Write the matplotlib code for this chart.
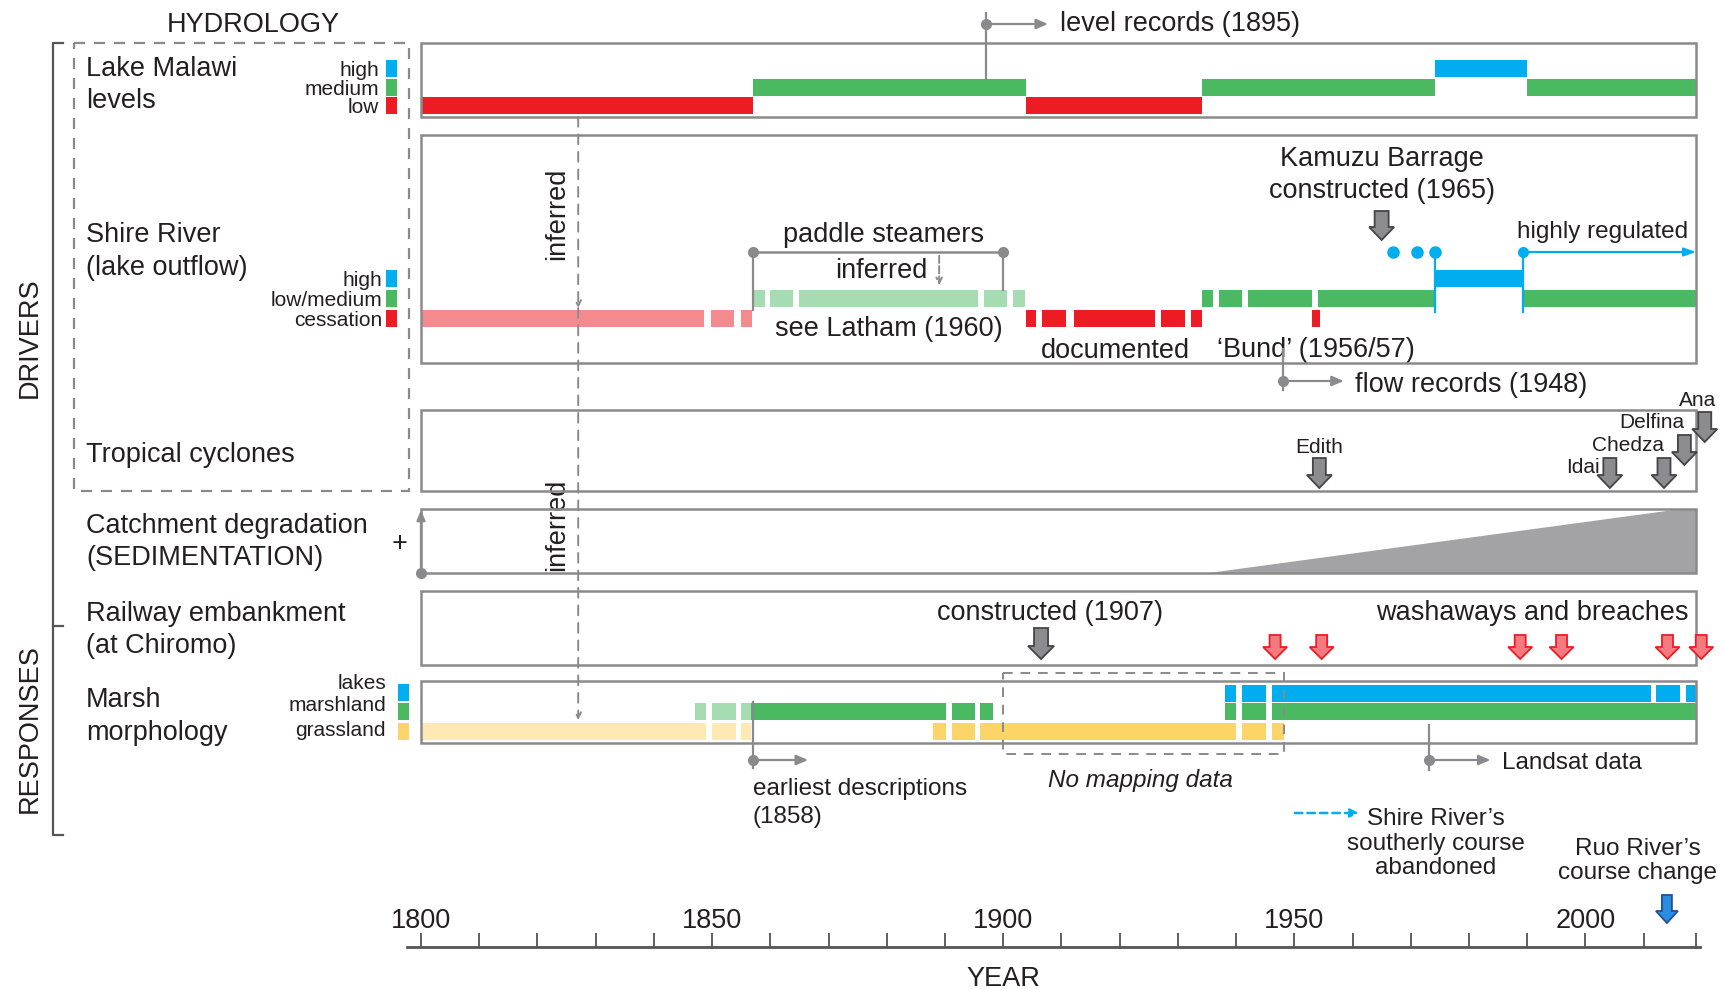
import matplotlib
matplotlib.use('Agg')
import matplotlib.pyplot as plt
from matplotlib.patches import Rectangle, Polygon

W, H = 1724, 989
X0, PPY = 421, 5.822          # pixel of year 1800, pixels per year
plt.rcParams['font.family'] = ['Liberation Sans', 'DejaVu Sans']

RED = '#ed1c24'; GREEN = '#4bb862'; BLUE = '#00aeef'
PINK = '#f48a8e'; LGREEN = '#a5dcb2'; YELLOW = '#fdd467'; LYELLOW = '#fee9b5'
GREY = '#8a8a8c'; DARK = '#444446'; TXT = '#231f20'
BIG, MED, SMALL = 19.5, 17.5, 15

# ---------------- data (years) ----------------
lake_low = [(1800, 1857), (1904, 1934.1)]
lake_medium = [(1857, 1904), (1934.1, 1974.2), (1990, 2019)]
lake_high = [(1974.2, 1990)]
level_records = 1897

shire_cess_inferred = [(1800, 1848.6), (1849.8, 1853.8), (1855, 1856.9)]
shire_flow_inferred = [(1857, 1859.1), (1859.9, 1863.9), (1864.9, 1895.7),
                       (1896.7, 1900.7), (1901.7, 1903.7)]
shire_cess = [(1903.9, 1905.6), (1906.7, 1910.8), (1912.2, 1926),
              (1927.1, 1931.2), (1932.2, 1934.2), (1953.1, 1954.5)]
shire_flow = [(1934.1, 1936.1), (1937.1, 1941.1), (1942.1, 1953.1),
              (1954.0, 1974.2), (1989.3, 2019)]
shire_high = [(1974.2, 1989.3)]
paddle_steamers = (1857, 1900)
barrage_year = 1965
barrage_dots = [1967, 1971.1, 1974.2]
regulated_from = 1989.3
flow_records = 1948
inferred_year = 1827

cyclone_years = [1954.3, 2004.2, 2013.5, 2017, 2020.5]
cyclone_names = ['Edith', 'Idai', 'Chedza', 'Delfina', 'Ana']
cyclone_level = [0, 0, 0, 1, 2]

sediment_start, sediment_peak = 1935.3, 2016.5

railway_built = 1906.5
breaches = [1946.7, 1954.7, 1988.8, 1995.9, 2014.1, 2019.9]

grass_inferred = [(1800, 1849), (1850, 1854.1), (1855, 1856.7)]
grass = [(1888, 1890.2), (1891.2, 1895.1), (1896.1, 1940), (1941, 1945.2), (1946.2, 1948.2)]
marsh_inferred = [(1847, 1849), (1850, 1854.1), (1855, 1856.7)]
marsh = [(1856.7, 1890.2), (1891.2, 1895.1), (1896.1, 1898.2),
         (1938.1, 1940), (1941, 1945.2), (1946.2, 2019)]
lakes = [(1938.1, 1940), (1941, 1945.2), (1946.2, 2011.2), (2012.2, 2016.2), (2017.2, 2019)]
no_mapping = (1900, 1948.2)
earliest_desc = 1857
landsat = 1973.2
course_abandoned = (1950.1, 1961.1)
ruo_change = 2014

START, END = 1800, 2019
major_ticks = [1800, 1850, 1900, 1950, 2000]
minor_ticks = list(range(1800, 2020, 10)) + [2019]


def yr(px):
    return 1800 + (px - X0) / PPY


fig = plt.figure(figsize=(W / 100, H / 100), dpi=100)

# timeline axis at the bottom
ax2 = fig.add_axes([407 / W, 1 - 947 / H, (1700 - 407) / W, 14 / H])
ax2.set_xlim(yr(407), yr(1700))
for s in ['top', 'left', 'right']:
    ax2.spines[s].set_visible(False)
ax2.spines['bottom'].set_color('#555555')
ax2.spines['bottom'].set_linewidth(2)
ax2.set_yticks([])
ax2.set_xticks(major_ticks)
ax2.set_xticks(minor_ticks, minor=True)
ax2.tick_params(which='both', direction='in', length=10, width=1.2, color='#444444',
                labelbottom=False, labeltop=True, top=False, bottom=True)
ax2.tick_params(which='major', labelsize=BIG, labelcolor=TXT, pad=-0.5)
ax2.patch.set_alpha(0)

ax = fig.add_axes([0, 0, 1, 1])
ax.set_xlim(yr(0), yr(W))
ax.set_ylim(H, 0)
ax.axis('off')


def bars(segs, yc, color, h=17):
    ax.broken_barh([(a, b - a) for a, b in segs], (yc - h / 2, h),
                   facecolors=color, edgecolor='none', zorder=3)


def panel(y0, y1):
    ax.add_patch(Rectangle((START, y0), END - START, y1 - y0, fill=False,
                           ec=GREY, lw=1.8, zorder=4))


def block_arrow(x, ytop, length, shaft, head, head_len, face, edge):
    sw, hw = shaft / 2 / PPY, head / 2 / PPY
    yb = ytop + length
    yh = yb - head_len
    pts = [(x - sw, ytop), (x + sw, ytop), (x + sw, yh), (x + hw, yh),
           (x, yb), (x - hw, yh), (x - sw, yh)]
    ax.add_patch(Polygon(pts, closed=True, fc=face, ec=edge, lw=1.3, zorder=6))


def pointer(x, y, x_end, color=GREY):
    ax.plot([x], [y], 'o', color=color, ms=7, zorder=6)
    ax.annotate('', xy=(x_end, y), xytext=(x, y),
                arrowprops=dict(arrowstyle='-|>,head_length=0.7,head_width=0.3',
                                color=color, lw=1.6, shrinkA=0, shrinkB=0), zorder=6)


def txt(x, y, s, size=BIG, **kw):
    kw.setdefault('va', 'center')
    if kw.get('rotation') == 90:
        x = x + 2.5 / PPY
    else:
        y = y + 2.8
    ax.text(x, y, s, fontsize=size, color=TXT, **kw)


# ---------------- left hand labels ----------------
txt(yr(253), 22, 'HYDROLOGY', ha='center')
ax.add_patch(Rectangle((yr(74), 43), (409 - 74) / PPY, 491 - 43, fill=False,
                       ec=GREY, lw=1.6, ls=(0, (5, 4))))
ax.plot([yr(63), yr(53), yr(53), yr(63)], [43, 43, 835, 835], color='#555555', lw=1.6)
ax.plot([yr(53), yr(63)], [626, 626], color='#555555', lw=1.6)
txt(yr(27), 338, 'DRIVERS', rotation=90, ha='center')
txt(yr(27), 729, 'RESPONSES', rotation=90, ha='center')

row_labels = [('Lake Malawi', 66), ('levels', 98), ('Shire River', 232), ('(lake outflow)', 265),
              ('Tropical cyclones', 452), ('Catchment degradation', 523), ('(SEDIMENTATION)', 555),
              ('Railway embankment', 611), ('(at Chiromo)', 643), ('Marsh', 697), ('morphology', 730)]
for s, y in row_labels:
    txt(yr(86), y, s, ha='left')

# legend keys: label x, square x, (label, label y, bar centre y, colour)
legends = [
    (379, 386, [('high', 68, 68, BLUE), ('medium', 87, 87, GREEN), ('low', 105, 105.5, RED)]),
    (382, 386, [('high', 278, 278, BLUE), ('low/medium', 298, 298, GREEN),
                ('cessation', 318, 318.5, RED)]),
    (386, 398, [('lakes', 681, 692, BLUE), ('marshland', 703, 711.5, GREEN),
                ('grassland', 728, 731, YELLOW)]),
]
for xl, xs, items in legends:
    for lab, yl, yc, c in items:
        txt(yr(xl), yl, lab, size=SMALL, ha='right')
        ax.add_patch(Rectangle((yr(xs), yc - 8.5), 11 / PPY, 17, fc=c, ec='none'))

# ---------------- Lake Malawi ----------------
panel(43, 117)
bars(lake_low, 105.5, RED)
bars(lake_medium, 87, GREEN)
bars(lake_high, 68, BLUE)
ax.plot([level_records] * 2, [13, 78], color=GREY, lw=1.6, zorder=5)
pointer(level_records, 24, level_records + 10.7)
txt(yr(1060), 21, 'level records (1895)', ha='left')

# ---------------- Shire River ----------------
panel(135, 363)
bars(shire_cess_inferred, 318.5, PINK)
bars(shire_flow_inferred, 298, LGREEN)
bars(shire_cess, 318.5, RED)
bars(shire_flow, 298, GREEN)
bars(shire_high, 278, BLUE)

a, b = paddle_steamers
ax.plot([a, b], [252, 252], color=GREY, lw=1.8, zorder=5)
ax.plot([a, a], [252, 310], color=GREY, lw=1.6, zorder=5)
ax.plot([b, b], [252, 290], color=GREY, lw=1.6, zorder=5)
ax.plot([a, b], [252, 252], 'o', color=GREY, ms=7, zorder=6)
txt((a + b) / 2 + 1, 232, 'paddle steamers', ha='center')
txt(1879, 268, 'inferred', ha='center')
ax.annotate('', xy=(1889, 288), xytext=(1889, 253),
            arrowprops=dict(arrowstyle='->', color=GREY, lw=1.4, ls='--'))
txt(1880.4, 326, 'see Latham (1960)', ha='center')
txt(1919.2, 348, 'documented', ha='center')
txt(1953.7, 347, '\u2018Bund\u2019 (1956/57)', ha='center')

txt(barrage_year, 156, 'Kamuzu Barrage', ha='center')
txt(barrage_year, 188, 'constructed (1965)', ha='center')
block_arrow(barrage_year, 211, 29, 14, 25, 13, '#8c8c8e', DARK)
ax.plot(barrage_dots, [252] * 3, 'o', color=BLUE, ms=8, zorder=6)
for x in (shire_high[0][0], regulated_from):
    ax.plot([x, x], [252, 312], color=BLUE, lw=1.6, zorder=5)
ax.plot([regulated_from], [252], 'o', color=BLUE, ms=7, zorder=6)
ax.annotate('', xy=(END, 252), xytext=(regulated_from, 252),
            arrowprops=dict(arrowstyle='-|>,head_length=0.7,head_width=0.25',
                            color=BLUE, lw=1.6, shrinkA=0, shrinkB=0))
txt(2003, 229, 'highly regulated', size=MED, ha='center')

ax.plot([flow_records] * 2, [349, 390], color=GREY, lw=1.6, zorder=5)
pointer(flow_records, 381, flow_records + 10.5)
txt(1960.4, 382, 'flow records (1948)', ha='left')

# inferred dashed line across panels
ax.annotate('', xy=(inferred_year, 308), xytext=(inferred_year, 117),
            arrowprops=dict(arrowstyle='->', color=GREY, lw=1.4, ls=(0, (5, 4)), shrinkA=0, shrinkB=0))
ax.annotate('', xy=(inferred_year, 720), xytext=(inferred_year, 308),
            arrowprops=dict(arrowstyle='->', color=GREY, lw=1.4, ls=(0, (5, 4)), shrinkA=0, shrinkB=0))
txt(1823, 214, 'inferred', rotation=90, ha='center')
txt(1823, 525, 'inferred', rotation=90, ha='center')

# ---------------- Tropical cyclones ----------------
panel(410, 491)
for x, name, lvl in zip(cyclone_years, cyclone_names, cyclone_level):
    top = 458 - 23 * lvl
    block_arrow(x, top, 30, 13, 25, 13, '#8c8c8e', DARK)
    if name == 'Edith':
        txt(x, 445, name, size=SMALL, ha='center')
    elif name == 'Idai':
        txt(x - 1.7, top + 7, name, size=SMALL, ha='right')
    elif name == 'Ana':
        txt(x - 1.2, top - 14, name, size=SMALL, ha='center')
    else:
        txt(x, top - 15, name, size=SMALL, ha='right')

# ---------------- Catchment degradation ----------------
panel(509, 573)
ax.add_patch(Polygon([(sediment_start, 573), (sediment_peak, 509), (END, 509), (END, 573)],
                     closed=True, fc='#a3a3a6', ec='none', zorder=3))
ax.plot([START], [573], 'o', color=GREY, ms=7, zorder=6)
ax.annotate('', xy=(START, 510), xytext=(START, 573),
            arrowprops=dict(arrowstyle='-|>,head_length=0.6,head_width=0.25',
                            color=GREY, lw=1.6, shrinkA=0, shrinkB=0), zorder=6)
txt(yr(400), 541, '+', ha='center')

# ---------------- Railway ----------------
panel(591, 665)
txt(1908, 610, 'constructed (1907)', ha='center')
block_arrow(railway_built, 628, 31, 14, 26, 13, '#8c8c8e', DARK)
txt(2017.7, 610, 'washaways and breaches', ha='right')
for x in breaches:
    block_arrow(x, 635, 24, 11, 24, 12, '#f47a80', RED)

# ---------------- Marsh morphology ----------------
panel(681, 743)
bars(grass_inferred, 731, LYELLOW)
bars(marsh_inferred, 711.5, LGREEN)
bars(grass, 731, YELLOW)
bars(marsh, 711.5, GREEN)
bars(lakes, 693, BLUE)
ax.add_patch(Rectangle((no_mapping[0], 673), no_mapping[1] - no_mapping[0], 81, fill=False,
                       ec=GREY, lw=1.4, ls=(0, (5, 4)), zorder=5))
txt(1923.5, 778, 'No mapping data', size=MED, ha='center', style='italic')
ax.plot([earliest_desc] * 2, [702, 768], color=GREY, lw=1.6, zorder=5)
pointer(earliest_desc, 760, earliest_desc + 9.5)
txt(earliest_desc, 786, 'earliest descriptions', size=MED, ha='left')
txt(earliest_desc, 814, '(1858)', size=MED, ha='left')
ax.plot([landsat] * 2, [725, 770], color=GREY, lw=1.6, zorder=5)
pointer(landsat, 760, landsat + 10.5)
txt(1985.6, 760, 'Landsat data', size=MED, ha='left')

# ---------------- bottom notes ----------------
ax.annotate('', xy=(course_abandoned[1], 813), xytext=(course_abandoned[0], 813),
            arrowprops=dict(arrowstyle='-|>,head_length=0.5,head_width=0.25', color=BLUE,
                            lw=1.8, ls=(0, (3, 2)), shrinkA=0, shrinkB=0))
txt(1974.3, 841, "Shire River\u2019s\nsoutherly course\nabandoned", size=MED, ha='center',
    linespacing=1.15)
txt(2009, 858, "Ruo River\u2019s\ncourse change", size=MED, ha='center', linespacing=1.15)
block_arrow(ruo_change, 895, 28, 10, 22, 12, '#2b8de0', '#1f4f9f')

txt(1900, 976, 'YEAR', ha='center')

fig.savefig('out.png', dpi=100, facecolor='white')
